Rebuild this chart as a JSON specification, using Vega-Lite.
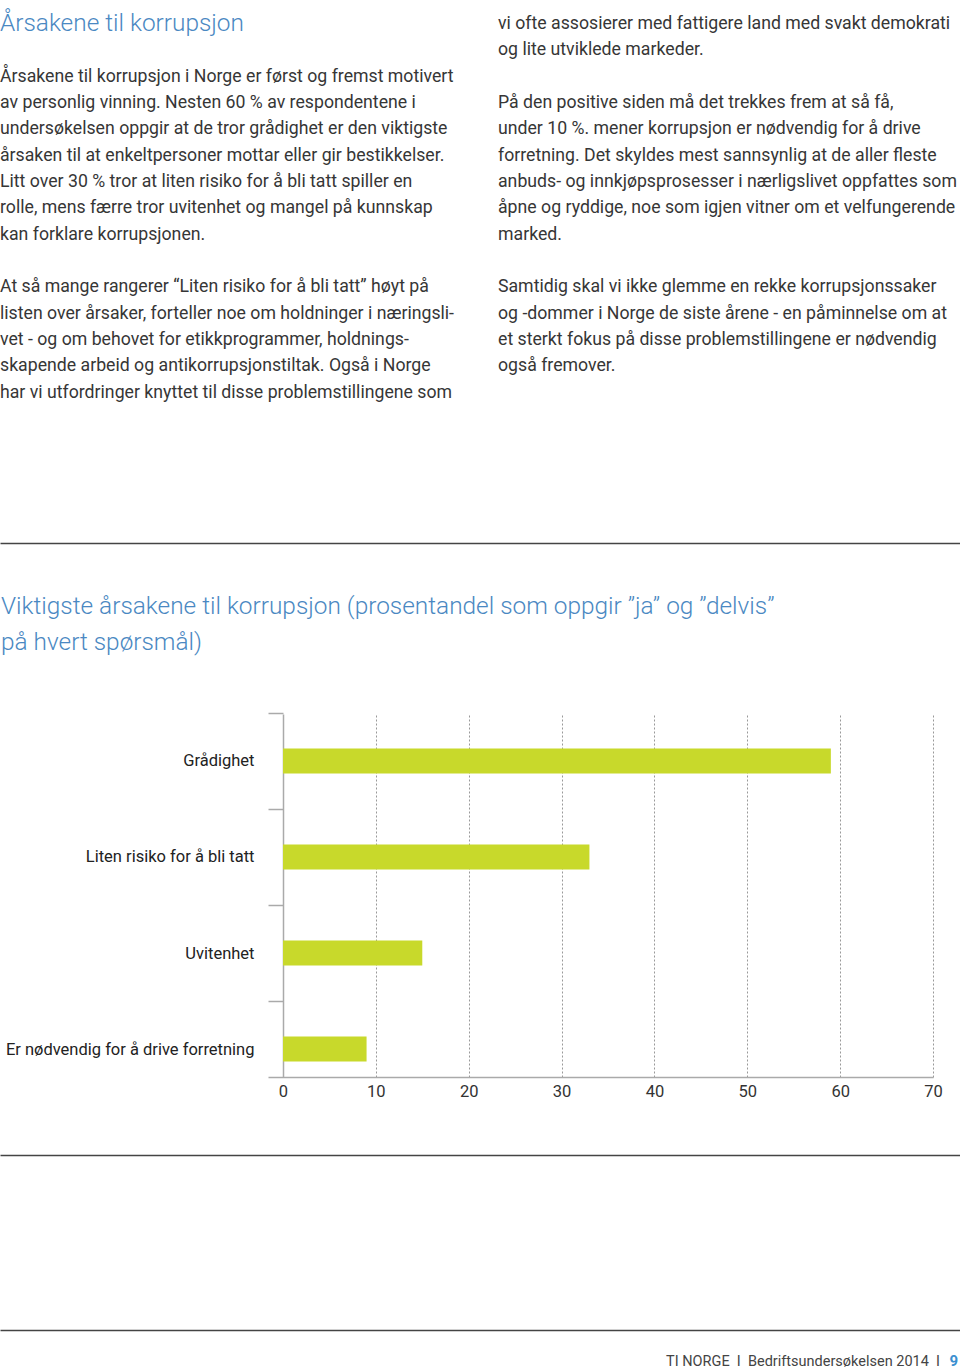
{
  "$schema": "https://vega.github.io/schema/vega-lite/v6.json",
  "padding": 0,
  "spacing": 0,
  "background": "white",
  "config": {"view": {"stroke": null}, "font": "Roboto", "concat": {"spacing": 0}},
  "vconcat": [
    {
      "width": 960,
      "height": 593,
      "layer": [
        {
          "data": {"values": [{"col": 0, "row": 0, "text": "Årsakene til korrupsjon"}]},
          "mark": {"type": "text", "align": "left", "baseline": "middle", "font": "Roboto", "fontWeight": 300, "fontSize": 24.4, "color": "#4a88c2"},
          "encoding": {
            "x": {"field": "col", "type": "quantitative", "scale": {"domain": [0, 1.92771], "nice": false, "zero": false},
                  "axis": {"orient": "bottom", "offset": -50, "domain": true, "domainColor": "#444", "domainWidth": 1.5, "ticks": false, "labels": false, "grid": false, "title": null}},
            "y": {"field": "row", "type": "quantitative", "scale": {"domain": [-0.9125, 21.6], "reverse": true, "nice": false, "zero": false}, "axis": null},
            "text": {"field": "text"}
          }
        },
        {
          "data": {"values": [
            {"col": 0, "row": 2, "text": "Årsakene til korrupsjon i Norge er først og fremst motivert"},
            {"col": 0, "row": 3, "text": "av personlig vinning. Nesten 60 % av respondentene i"},
            {"col": 0, "row": 4, "text": "undersøkelsen oppgir at de tror grådighet er den viktigste"},
            {"col": 0, "row": 5, "text": "årsaken til at enkeltpersoner mottar eller gir bestikkelser."},
            {"col": 0, "row": 6, "text": "Litt over 30 % tror at liten risiko for å bli tatt spiller en"},
            {"col": 0, "row": 7, "text": "rolle, mens færre tror uvitenhet og mangel på kunnskap"},
            {"col": 0, "row": 8, "text": "kan forklare korrupsjonen."},
            {"col": 0, "row": 10, "text": "At så mange rangerer “Liten risiko for å bli tatt” høyt på"},
            {"col": 0, "row": 11, "text": "listen over årsaker, forteller noe om holdninger i næringsli-"},
            {"col": 0, "row": 12, "text": "vet - og om behovet for etikkprogrammer, holdnings-"},
            {"col": 0, "row": 13, "text": "skapende arbeid og antikorrupsjonstiltak. Også i Norge"},
            {"col": 0, "row": 14, "text": "har vi utfordringer knyttet til disse problemstillingene som"},
            {"col": 1, "row": 0, "text": "vi ofte assosierer med fattigere land med svakt demokrati"},
            {"col": 1, "row": 1, "text": "og lite utviklede markeder."},
            {"col": 1, "row": 3, "text": "På den positive siden må det trekkes frem at så få,"},
            {"col": 1, "row": 4, "text": "under 10 %. mener korrupsjon er nødvendig for å drive"},
            {"col": 1, "row": 5, "text": "forretning. Det skyldes mest sannsynlig at de aller fleste"},
            {"col": 1, "row": 6, "text": "anbuds- og innkjøpsprosesser i nærligslivet oppfattes som"},
            {"col": 1, "row": 7, "text": "åpne og ryddige, noe som igjen vitner om et velfungerende"},
            {"col": 1, "row": 8, "text": "marked."},
            {"col": 1, "row": 10, "text": "Samtidig skal vi ikke glemme en rekke korrupsjonssaker"},
            {"col": 1, "row": 11, "text": "og -dommer i Norge de siste årene - en påminnelse om at"},
            {"col": 1, "row": 12, "text": "et sterkt fokus på disse problemstillingene er nødvendig"},
            {"col": 1, "row": 13, "text": "også fremover."}
          ]},
          "mark": {"type": "text", "align": "left", "baseline": "middle", "font": "Roboto", "fontSize": 17.7, "color": "#363636"},
          "encoding": {
            "x": {"field": "col", "type": "quantitative", "scale": {"domain": [0, 1.92771], "nice": false, "zero": false},
                  "axis": {"orient": "bottom", "offset": -50, "domain": true, "domainColor": "#444", "domainWidth": 1.5, "ticks": false, "labels": false, "grid": false, "title": null}},
            "y": {"field": "row", "type": "quantitative", "scale": {"domain": [-0.9125, 21.6], "reverse": true, "nice": false, "zero": false}, "axis": null},
            "text": {"field": "text"}
          }
        }
      ]
    },
    {
      "spacing": 0,
      "hconcat": [
        {"width": 1, "height": 363, "data": {"values": [{"t": ""}]}, "mark": {"type": "text"}, "encoding": {"text": {"field": "t"}}},
        {
          "width": 665,
          "height": 363,
          "title": {
            "text": ["Viktigste årsakene til korrupsjon (prosentandel som oppgir ”ja” og ”delvis”", "på hvert spørsmål)"],
            "anchor": "start",
            "frame": "bounds",
            "font": "Roboto",
            "fontWeight": 300,
            "fontSize": 24.4,
            "color": "#4a88c2",
            "lineHeight": 36,
            "offset": 57
          },
          "data": {"values": [
            {"cause": "Grådighet", "pct": 59},
            {"cause": "Liten risiko for å bli tatt", "pct": 33},
            {"cause": "Uvitenhet", "pct": 15},
            {"cause": "Er nødvendig for å drive forretning", "pct": 9}
          ]},
          "mark": {"type": "bar", "color": "#c8d92b"},
          "encoding": {
            "y": {"field": "cause", "type": "nominal", "sort": null,
                  "scale": {"paddingInner": 0.7396, "paddingOuter": 0.2604, "align": 0.69},
                  "axis": {"title": null, "offset": -15, "domainColor": "#aaa", "domainWidth": 1.5, "tickColor": "#aaa", "tickWidth": 1.5, "tickSize": 15,
                           "tickOffset": -48, "labelOffset": 48, "labelPadding": 14, "labelFontSize": 16.5, "labelColor": "#222", "labelFont": "Roboto",
                           "labelLimit": 400, "minExtent": 282, "maxExtent": 282}},
            "x": {"field": "pct", "type": "quantitative", "scale": {"domain": [-1.615, 70], "nice": false, "zero": false},
                  "axis": {"title": null, "values": [0, 10, 20, 30, 40, 50, 60, 70], "grid": true, "gridDash": [2, 2], "gridColor": "#999", "gridWidth": 1,
                           "ticks": false, "tickSize": 0, "domain": true, "domainColor": "#aaa", "domainWidth": 1.5, "labelPadding": 6, "labelFontSize": 16.5,
                           "labelColor": "#333", "labelFont": "Roboto", "labelFlush": false, "labelOverlap": false}},
            "x2": {"datum": 0}
          }
        }
      ]
    },
    {
      "width": 960,
      "height": 266,
      "layer": [
        {
          "data": {"values": [{"text": "TI NORGE\u00a0\u00a0I\u00a0\u00a0Bedriftsundersøkelsen 2014\u00a0\u00a0I"}]},
          "mark": {"type": "text", "align": "right", "baseline": "alphabetic", "font": "Roboto", "fontSize": 14.5, "color": "#444", "dx": -20},
          "encoding": {
            "x": {"datum": 1, "type": "quantitative", "scale": {"domain": [0, 1], "nice": false},
                  "axis": {"orient": "top", "offset": -55, "domain": true, "domainColor": "#444", "domainWidth": 1.5, "ticks": false, "labels": false, "grid": false, "title": null}},
            "y": {"datum": 0, "type": "quantitative", "scale": {"domain": [0, 1], "nice": false}, "axis": null},
            "text": {"field": "text"}
          }
        },
        {
          "data": {"values": [{"text": "9"}]},
          "mark": {"type": "text", "align": "right", "baseline": "alphabetic", "font": "Roboto", "fontSize": 15, "fontWeight": "bold", "color": "#3b8fd0", "dx": -2},
          "encoding": {
            "x": {"datum": 1, "type": "quantitative", "scale": {"domain": [0, 1], "nice": false},
                  "axis": {"orient": "bottom", "offset": -36, "domain": true, "domainColor": "#444", "domainWidth": 1.5, "ticks": false, "labels": false, "grid": false, "title": null}},
            "y": {"datum": 0, "type": "quantitative", "scale": {"domain": [0, 1], "nice": false}, "axis": null},
            "text": {"field": "text"}
          }
        }
      ],
      "resolve": {"axis": {"x": "independent"}}
    }
  ]
}
